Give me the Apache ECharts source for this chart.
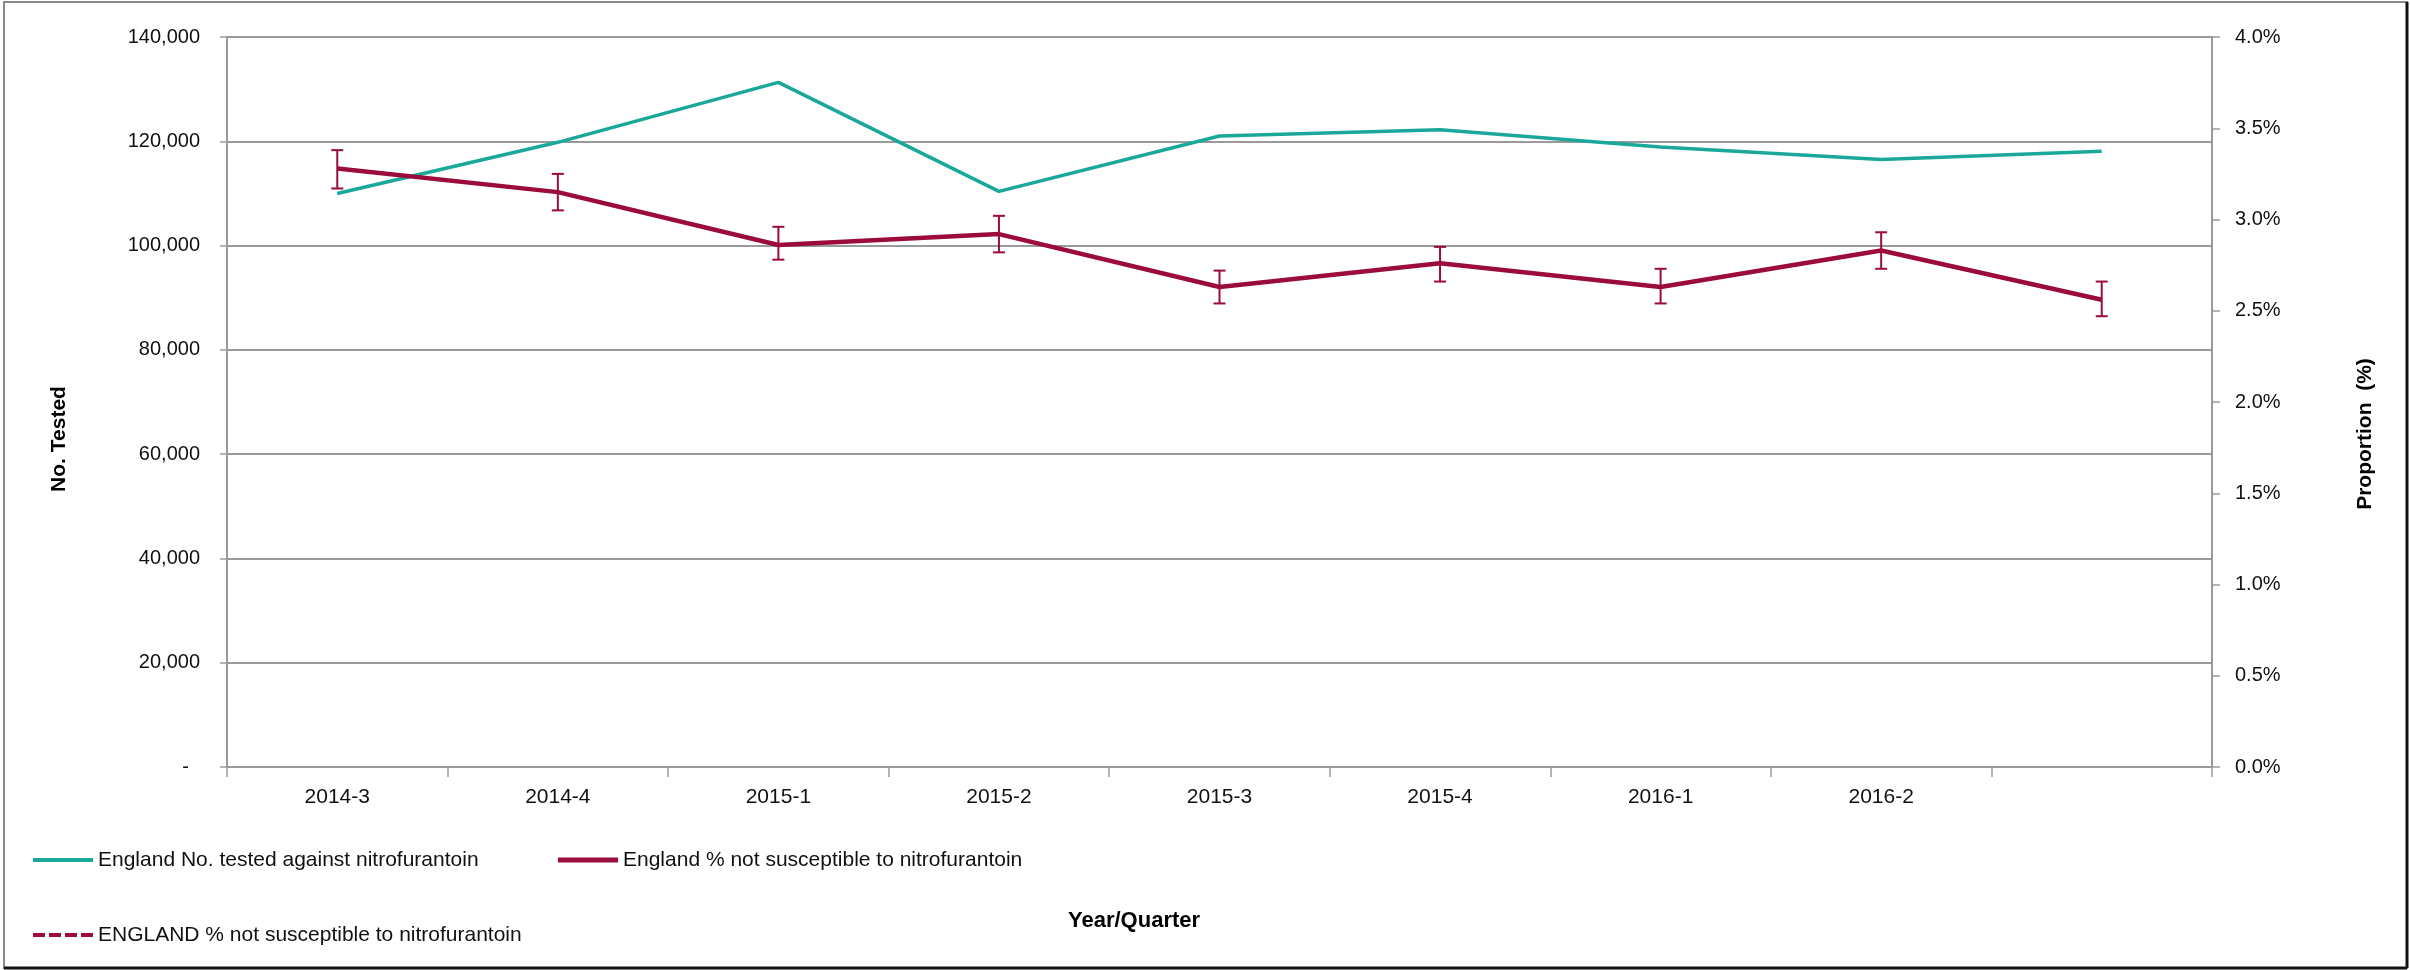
<!DOCTYPE html>
<html>
<head>
<meta charset="utf-8">
<script src="https://cdn.jsdelivr.net/npm/echarts@6/dist/echarts.min.js"></script>
<style>
html,body{margin:0;padding:0;background:#fff;}
#chart{width:2410px;height:970px;}
</style>
</head>
<body>
<div id="chart"></div>
<script>
// ---- data ----
const categories = ['2014-3','2014-4','2015-1','2015-2','2015-3','2015-4','2016-1','2016-2',''];
const numberTested = [110000, 119800, 131300, 110400, 121000, 122200, 118900, 116500, 118100];
const pctNotSusceptible = [3.28, 3.15, 2.86, 2.92, 2.63, 2.76, 2.63, 2.83, 2.56];
const ciLower = [3.17, 3.05, 2.78, 2.82, 2.54, 2.66, 2.54, 2.73, 2.47];
const ciUpper = [3.38, 3.25, 2.96, 3.02, 2.72, 2.85, 2.73, 2.93, 2.66];
const leftTicks = {min: 0, max: 140000, interval: 20000};
const rightTicks = {min: 0, max: 4, interval: 0.5};
const seriesNames = [
  'England No. tested against nitrofurantoin',
  'England % not susceptible to nitrofurantoin',
  'ENGLAND % not susceptible to nitrofurantoin'
];

const TEAL = '#19A89A';
const RED = '#9B0B3B';
const GRID = '#9a9a9a';
const FONT = "'Liberation Sans', Arial, sans-serif";

const errData = categories.map((c, i) => [i, ciLower[i], ciUpper[i]]);

const DASH_ICON = 'path://M0,0h12v4H0z M16,0h12v4H16z M32,0h12v4H32z M48,0h12v4H48z';

const chart = echarts.init(document.getElementById('chart'), null, {renderer: 'canvas'});
const legendText = {fontFamily: FONT, fontSize: 21, color: '#111', lineHeight: 22};
chart.setOption({
  animation: false,
  backgroundColor: '#fff',
  grid: {left: 227, right: 198, top: 37, bottom: 203, containLabel: false},
  legend: [
    {data: [{name: seriesNames[0], icon: 'rect', itemStyle: {color: TEAL}}], left: 33, top: 849, padding: 0, itemWidth: 60, itemHeight: 4, textStyle: legendText, selectedMode: false},
    {data: [{name: seriesNames[1], icon: 'rect', itemStyle: {color: RED}}], left: 558, top: 849, padding: 0, itemWidth: 60, itemHeight: 5, textStyle: legendText, selectedMode: false},
    {data: [{name: seriesNames[2], icon: DASH_ICON, itemStyle: {color: RED}}], left: 33, top: 924, padding: 0, itemWidth: 60, itemHeight: 4, textStyle: legendText, selectedMode: false}
  ],
  xAxis: {
    type: 'category',
    data: categories,
    boundaryGap: true,
    axisLine: {lineStyle: {color: GRID, width: 2}},
    axisTick: {show: true, length: 10, lineStyle: {color: GRID, width: 1.5}, alignWithLabel: false, interval: 0},
    axisLabel: {fontFamily: FONT, fontSize: 21, color: '#111', margin: 20, interval: 0}
  },
  yAxis: [
    {
      type: 'value', min: leftTicks.min, max: leftTicks.max, interval: leftTicks.interval,
      position: 'left',
      axisLine: {show: true, lineStyle: {color: GRID, width: 2}},
      axisTick: {show: true, length: 7, lineStyle: {color: GRID, width: 1.5}},
      splitLine: {show: true, lineStyle: {color: GRID, width: 2}},
      axisLabel: {
        fontFamily: FONT, fontSize: 20, color: '#111', margin: 27,
        formatter: v => v === 0 ? '-  ' : v.toLocaleString('en-US')
      }
    },
    {
      type: 'value', min: rightTicks.min, max: rightTicks.max, interval: rightTicks.interval,
      position: 'right',
      axisLine: {show: true, lineStyle: {color: GRID, width: 2}},
      axisTick: {show: true, length: 8, lineStyle: {color: GRID, width: 1.5}},
      splitLine: {show: false},
      axisLabel: {
        fontFamily: FONT, fontSize: 20, color: '#111', margin: 23,
        formatter: v => v.toFixed(1) + '%'
      }
    }
  ],
  graphic: [
    {type: 'rect', shape: {x: 4, y: 2, width: 2403, height: 966}, style: {fill: 'none', stroke: '#8a8a8a', lineWidth: 2}, silent: true, z: -10},
    {type: 'line', shape: {x1: 2407, y1: 2, x2: 2407, y2: 968}, style: {stroke: '#111', lineWidth: 3}, silent: true},
    {type: 'line', shape: {x1: 4, y1: 968, x2: 2407, y2: 968}, style: {stroke: '#111', lineWidth: 3}, silent: true},
    {type: 'text', left: 1068, top: 910, style: {text: 'Year/Quarter', fontFamily: FONT, fontWeight: 'bold', fontSize: 22, fill: '#000'}},
    {type: 'text', x: 59, y: 439, rotation: Math.PI / 2, style: {text: 'No. Tested', fontFamily: FONT, fontWeight: 'bold', fontSize: 21, fill: '#000', align: 'center', verticalAlign: 'middle'}},
    {type: 'text', x: 2365, y: 434, rotation: Math.PI / 2, style: {text: 'Proportion  (%)', fontFamily: FONT, fontWeight: 'bold', fontSize: 21, fill: '#000', align: 'center', verticalAlign: 'middle'}}
  ],
  series: [
    {
      name: seriesNames[0], type: 'line', yAxisIndex: 0, data: numberTested,
      symbol: 'none', lineStyle: {color: TEAL, width: 3.5}, itemStyle: {color: TEAL}, z: 2
    },
    {
      name: seriesNames[1], type: 'line', yAxisIndex: 1, data: pctNotSusceptible,
      symbol: 'none', lineStyle: {color: RED, width: 4.5}, itemStyle: {color: RED}, z: 3
    },
    {
      name: seriesNames[2], type: 'line', yAxisIndex: 1, data: [],
      symbol: 'none', lineStyle: {color: RED, width: 4, type: [12, 5]}, itemStyle: {color: RED}
    },
    {
      name: 'CI', type: 'custom', yAxisIndex: 1, data: errData, z: 4,
      renderItem: function (params, api) {
        const i = api.value(0);
        const lo = api.coord([i, api.value(1)]);
        const hi = api.coord([i, api.value(2)]);
        const hw = 6;
        const st = {stroke: RED, lineWidth: 2, fill: null};
        return {
          type: 'group',
          children: [
            {type: 'line', shape: {x1: lo[0], y1: lo[1], x2: hi[0], y2: hi[1]}, style: st},
            {type: 'line', shape: {x1: lo[0] - hw, y1: lo[1], x2: lo[0] + hw, y2: lo[1]}, style: st},
            {type: 'line', shape: {x1: hi[0] - hw, y1: hi[1], x2: hi[0] + hw, y2: hi[1]}, style: st}
          ]
        };
      }
    }
  ]
});
</script>
</body>
</html>
